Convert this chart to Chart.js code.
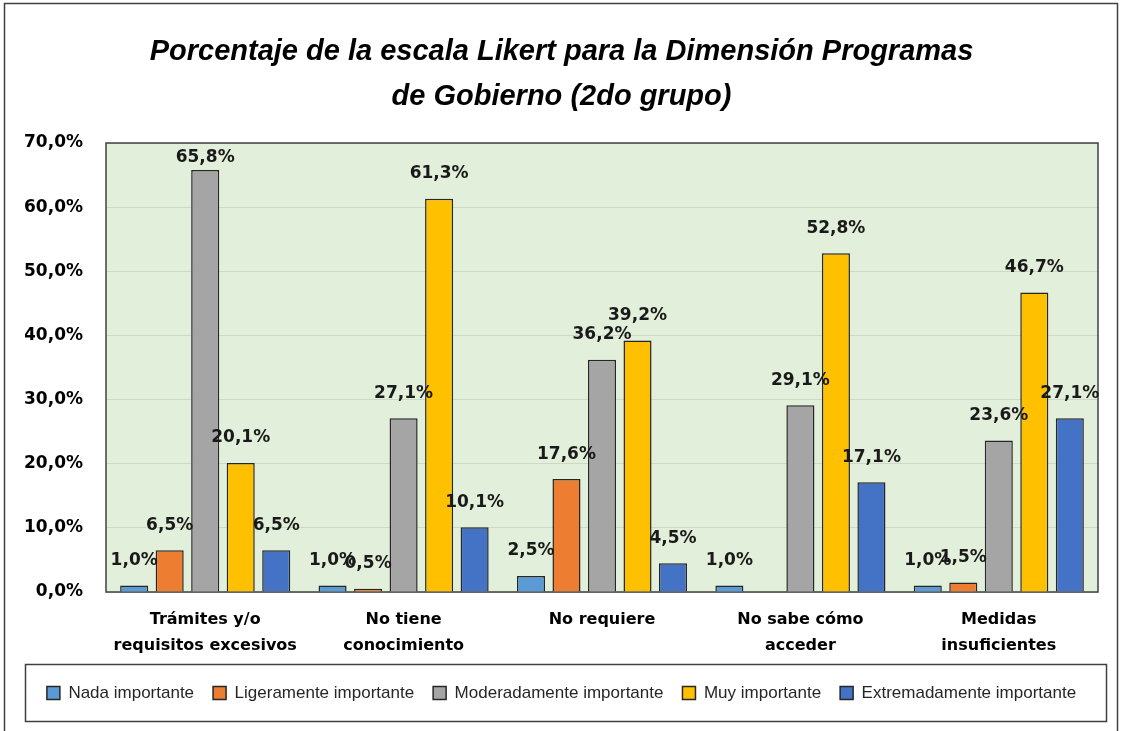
<!DOCTYPE html>
<html>
<head>
<meta charset="utf-8">
<script src="https://cdn.jsdelivr.net/npm/chart.js@4/dist/chart.umd.min.js"></script>
<style>
  html, body { margin: 0; padding: 0; background: #fff; }
  #wrap { width: 1123px; height: 731px; }
</style>
</head>
<body>
<div id="wrap"><canvas id="grafica" width="1123" height="731"></canvas></div>
<script>
// Categorías del eje X (dos líneas cada una)
const categorias = [
    ["Trámites y/o", "requisitos excesivos"],
    ["No tiene", "conocimiento"],
    ["No requiere"],
    ["No sabe cómo", "acceder"],
    ["Medidas", "insuficientes"]
];

// Valores por nivel de la escala Likert (%)
const nadaImportante = [1.0, 1.0, 2.5, 1.0, 1.0];
const ligeramenteImportante = [6.5, 0.5, 17.6, null, 1.5];
const moderadamenteImportante = [65.8, 27.1, 36.2, 29.1, 23.6];
const muyImportante = [20.1, 61.3, 39.2, 52.8, 46.7];
const extremadamenteImportante = [6.5, 10.1, 4.5, 17.1, 27.1];

const nombresSeries = ["Nada importante", "Ligeramente importante", "Moderadamente importante", "Muy importante", "Extremadamente importante"];
const colores = ["#5B9BD5", "#ED7D31", "#A5A5A5", "#FFC000", "#4472C4"];

const ejeMin = 0, ejeMax = 70, ejePaso = 10;

const tituloGrafica = ["Porcentaje de la escala Likert para la Dimensión Programas", "de Gobierno (2do grupo)"];

const fmt = v => v.toFixed(1).replace(".", ",") + "%";

// Fondo verde del área de trazado + marcos
const fondoArea = {
    id: "fondoArea",
    beforeDraw(chart) {
        const { ctx, chartArea: a } = chart;
        ctx.save();
        ctx.fillStyle = "#e2efda";
        ctx.fillRect(a.left, a.top, a.right - a.left, a.bottom - a.top);
        ctx.restore();
    },
    beforeDatasetsDraw(chart) {
        const { ctx, chartArea: a } = chart;
        ctx.save();
        ctx.strokeStyle = "#404040";
        ctx.lineWidth = 1.5;
        ctx.strokeRect(a.left, a.top, a.right - a.left, a.bottom - a.top);
        ctx.restore();
    },
    afterDraw(chart) {
        const { ctx } = chart;
        ctx.save();
        ctx.strokeStyle = "#404040";
        ctx.lineWidth = 1.5;
        // marco exterior
        ctx.strokeRect(4.5, 3.5, 1113, 760);
        // recuadro de la leyenda
        ctx.strokeRect(25.5, 664.5, 1081, 57);
        ctx.restore();
    }
};

// Etiquetas de datos sobre las barras
const etiquetasDatos = {
    id: "etiquetasDatos",
    afterDatasetsDraw(chart) {
        const { ctx, chartArea } = chart;
        ctx.save();
        ctx.font = "bold 17px 'DejaVu Sans'";
        ctx.fillStyle = "#1a1a1a";
        ctx.textAlign = "center";
        ctx.textBaseline = "middle";
        chart.data.datasets.forEach((ds, i) => {
            chart.getDatasetMeta(i).data.forEach((barra, j) => {
                const v = ds.data[j];
                if (v === null || v === undefined) return;
                const y = Math.max(barra.y - 25, chartArea.top + 15);
                ctx.fillText(fmt(v), barra.x, y);
            });
        });
        ctx.restore();
    }
};

const series = [nadaImportante, ligeramenteImportante, moderadamenteImportante, muyImportante, extremadamenteImportante];

new Chart(document.getElementById("grafica").getContext("2d"), {
    type: "bar",
    data: {
        labels: categorias,
        datasets: series.map((datos, i) => ({
            label: nombresSeries[i],
            data: datos,
            backgroundColor: colores[i],
            borderColor: "#262626",
            borderWidth: 1.5,
            barPercentage: 0.79,
            categoryPercentage: 0.895
        }))
    },
    options: {
        responsive: false,
        animation: false,
        devicePixelRatio: 1,
        layout: { padding: { left: 25, right: 25, top: 0, bottom: 19.5 } },
        plugins: {
            title: {
                display: true,
                text: tituloGrafica,
                color: "#000",
                font: { family: "'Liberation Sans Narrow', 'Arial Narrow', 'Liberation Sans', sans-serif", size: 29, weight: "bold", style: "italic", lineHeight: "45px" },
                padding: { top: 29.5, bottom: 23.5 }
            },
            legend: {
                position: "bottom",
                labels: {
                    boxWidth: 13,
                    boxHeight: 13,
                    padding: 19,
                    color: "#262626",
                    font: { family: "'Liberation Sans Narrow', 'Arial Narrow', 'Liberation Sans', sans-serif", size: 17 }
                }
            },
            tooltip: { enabled: false }
        },
        scales: {
            x: {
                afterFit(scale) { scale.height = 73.5; },
                grid: { display: false, drawTicks: false },
                border: { display: false },
                ticks: {
                    color: "#000",
                    maxRotation: 0,
                    autoSkip: false,
                    padding: 15,
                    font: { family: "'DejaVu Sans'", size: 16, weight: "bold", lineHeight: "26px" }
                }
            },
            y: {
                min: ejeMin,
                max: ejeMax,
                afterFit(scale) { scale.width = 81; },
                grid: { color: "#cdd8c5", lineWidth: 1, drawTicks: false },
                border: { display: false },
                ticks: {
                    stepSize: ejePaso,
                    padding: 23,
                    color: "#000",
                    callback: v => fmt(v),
                    font: { family: "'DejaVu Sans'", size: 17, weight: "bold" }
                }
            }
        }
    },
    plugins: [fondoArea, etiquetasDatos]
});
</script>
</body>
</html>
